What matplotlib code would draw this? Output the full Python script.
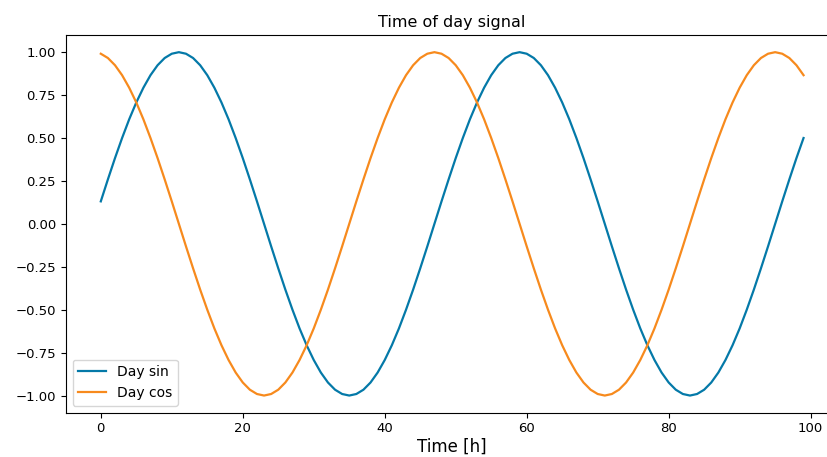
import matplotlib
matplotlib.use('Agg')
import matplotlib.pyplot as plt

plt.rcParams['savefig.bbox'] = 'standard'

# hourly samples, values
day_sin = [0.131, 0.259, 0.383, 0.500, 0.609, 0.707, 0.793, 0.866, 0.924, 0.966, 0.991, 1.000,
           0.991, 0.966, 0.924, 0.866, 0.793, 0.707, 0.609, 0.500, 0.383, 0.259, 0.131, 0.000,
           -0.131, -0.259, -0.383, -0.500, -0.609, -0.707, -0.793, -0.866, -0.924, -0.966, -0.991, -1.000,
           -0.991, -0.966, -0.924, -0.866, -0.793, -0.707, -0.609, -0.500, -0.383, -0.259, -0.131,
           0.000, 0.131, 0.259, 0.383, 0.500, 0.609, 0.707, 0.793, 0.866, 0.924, 0.966, 0.991, 1.000,
           0.991, 0.966, 0.924, 0.866, 0.793, 0.707, 0.609, 0.500, 0.383, 0.259, 0.131, 0.000,
           -0.131, -0.259, -0.383, -0.500, -0.609, -0.707, -0.793, -0.866, -0.924, -0.966, -0.991, -1.000,
           -0.991, -0.966, -0.924, -0.866, -0.793, -0.707, -0.609, -0.500, -0.383, -0.259, -0.131,
           0.000, 0.131, 0.259, 0.383, 0.500]
day_cos = [0.991, 0.966, 0.924, 0.866, 0.793, 0.707, 0.609, 0.500, 0.383, 0.259, 0.131, 0.000,
           -0.131, -0.259, -0.383, -0.500, -0.609, -0.707, -0.793, -0.866, -0.924, -0.966, -0.991, -1.000,
           -0.991, -0.966, -0.924, -0.866, -0.793, -0.707, -0.609, -0.500, -0.383, -0.259, -0.131,
           0.000, 0.131, 0.259, 0.383, 0.500, 0.609, 0.707, 0.793, 0.866, 0.924, 0.966, 0.991, 1.000,
           0.991, 0.966, 0.924, 0.866, 0.793, 0.707, 0.609, 0.500, 0.383, 0.259, 0.131, 0.000,
           -0.131, -0.259, -0.383, -0.500, -0.609, -0.707, -0.793, -0.866, -0.924, -0.966, -0.991, -1.000,
           -0.991, -0.966, -0.924, -0.866, -0.793, -0.707, -0.609, -0.500, -0.383, -0.259, -0.131,
           0.000, 0.131, 0.259, 0.383, 0.500, 0.609, 0.707, 0.793, 0.866, 0.924, 0.966, 0.991, 1.000,
           0.991, 0.966, 0.924, 0.866]
hours = list(range(len(day_sin)))

fig = plt.figure(figsize=(8.28, 4.57), dpi=100)
# the axes run past the right edge of the picture, as in the reference crop
ax = fig.add_axes([0.0793, 0.0969, 0.9336, 0.8265])
ax.plot(hours, day_sin, color='#0479a8', lw=1.6, label='Day sin')
ax.plot(hours, day_cos, color='#f78a1d', lw=1.6, label='Day cos')
ax.set_xlim(-4.95, 103.95)
ax.set_ylim(-1.1, 1.1)
ax.set_yticks([-1.0, -0.75, -0.5, -0.25, 0.0, 0.25, 0.5, 0.75, 1.0])
ax.set_xticks([0, 20, 40, 60, 80, 100])
ax.tick_params(labelsize=9.5)
ax.set_xlabel('Time [h]', fontsize=12, labelpad=2)
ax.set_title('Time of day signal', fontsize=11.5)
ax.legend(loc='lower left', fontsize=10)

fig.savefig('out.png', dpi=100, bbox_inches=None)
